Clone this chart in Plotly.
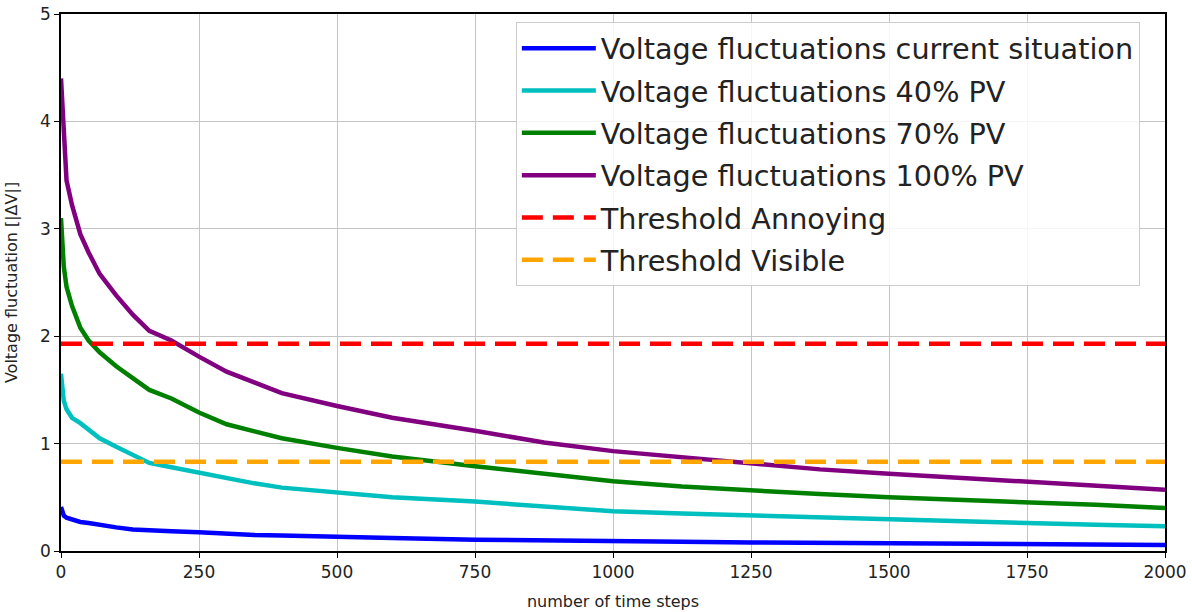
import plotly.graph_objects as go

# time-step positions at which values were read
steps = [0, 2, 5, 10, 20, 35, 50, 70, 100, 130, 160, 200, 250, 300, 350, 400,
         500, 600, 750, 875, 1000, 1125, 1250, 1375, 1500, 1625, 1750, 1875, 2000]

current = [0.41, 0.36, 0.33, 0.31, 0.29, 0.27, 0.26, 0.24, 0.22, 0.20, 0.19, 0.185, 0.175, 0.16, 0.15, 0.145,
           0.13, 0.12, 0.105, 0.095, 0.09, 0.085, 0.08, 0.075, 0.07, 0.068, 0.065, 0.06, 0.056]
pv40 = [1.65, 1.50, 1.40, 1.32, 1.24, 1.19, 1.13, 1.05, 0.97, 0.90, 0.82, 0.78, 0.73, 0.67, 0.63, 0.59,
        0.54, 0.50, 0.46, 0.41, 0.37, 0.35, 0.33, 0.31, 0.295, 0.28, 0.26, 0.245, 0.23]
pv70 = [3.10, 2.90, 2.65, 2.46, 2.28, 2.08, 1.96, 1.85, 1.72, 1.61, 1.50, 1.42, 1.29, 1.18, 1.11, 1.05,
        0.96, 0.88, 0.79, 0.72, 0.65, 0.60, 0.56, 0.53, 0.50, 0.48, 0.46, 0.43, 0.40]
pv100 = [4.40, 4.20, 3.75, 3.45, 3.22, 2.95, 2.78, 2.58, 2.38, 2.20, 2.05, 1.96, 1.81, 1.67, 1.57, 1.47,
         1.35, 1.24, 1.12, 1.01, 0.93, 0.87, 0.81, 0.76, 0.72, 0.68, 0.645, 0.61, 0.57]

threshold_annoying = 1.93
threshold_visible = 0.83

x_ticks = [0, 250, 500, 750, 1000, 1250, 1500, 1750, 2000]
y_ticks = [0, 1, 2, 3, 4, 5]

series = [
    ("Voltage fluctuations current situation", current, "#0000ff"),
    ("Voltage fluctuations 40% PV", pv40, "#00bfbf"),
    ("Voltage fluctuations 70% PV", pv70, "#008000"),
    ("Voltage fluctuations 100% PV", pv100, "#800080"),
]

FONT = "DejaVu Sans"
fig = go.Figure()
for i, (name, vals, col) in enumerate(series):
    fig.add_trace(go.Scatter(x=steps, y=vals, mode="lines", name=name,
                             legendgroup=f"g{i}",
                             line=dict(color=col, width=4.5)))

fig.add_trace(go.Scatter(x=[steps[0], steps[-1]], y=[threshold_annoying] * 2, mode="lines",
                         name="Threshold Annoying", legendgroup="g4",
                         line=dict(color="#ff0000", width=4.5, dash="21px,10px")))
fig.add_trace(go.Scatter(x=[steps[0], steps[-1]], y=[threshold_visible] * 2, mode="lines",
                         name="Threshold Visible", legendgroup="g5",
                         line=dict(color="#ffa500", width=4.5, dash="21px,10px")))

axis_common = dict(showline=True, linecolor="black", linewidth=1.5, mirror=True,
                   ticks="outside", ticklen=5, tickcolor="black", tickwidth=1.2,
                   showgrid=True, gridcolor="#c4c4c4", gridwidth=1.2, zeroline=False,
                   automargin=False,
                   tickfont=dict(family=FONT, size=17, color="#222"))

fig.update_xaxes(range=[0, 2000], tickvals=x_ticks,
                 title=dict(text="number of time steps", font=dict(family=FONT, size=16, color="#222"),
                            standoff=15),
                 **axis_common)
fig.update_yaxes(range=[0, 5], tickvals=y_ticks,
                 title=dict(text="Voltage fluctuation [|ΔV|]", font=dict(family=FONT, size=16, color="#222"),
                            standoff=18),
                 **axis_common)

fig.update_layout(
    width=1192, height=612,
    margin=dict(l=61, r=27, t=14, b=61),
    plot_bgcolor="white", paper_bgcolor="white",
    font=dict(family=FONT, color="#222"),
    legend=dict(x=0.412, y=0.985, xanchor="left", yanchor="top",
                bgcolor="rgba(255,255,255,0.85)", bordercolor="#cccccc", borderwidth=1,
                font=dict(family=FONT, size=28.7, color="#222"),
                tracegroupgap=2, itemwidth=74),
    showlegend=True,
)

fig.write_html("out.html")
